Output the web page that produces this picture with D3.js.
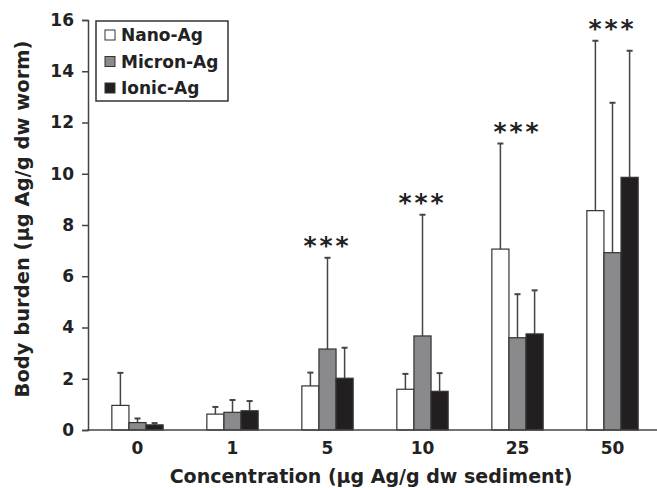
<!DOCTYPE html>
<html>
<head>
<meta charset="utf-8">
<script src="https://cdn.jsdelivr.net/npm/d3@7"></script>
<style>
  body { margin: 0; background: #fff; }
  svg { display: block; font-family: "DejaVu Sans", sans-serif; }
  .tick text { font-weight: bold; font-size: 17px; fill: #222; }
  .title { font-weight: bold; fill: #222; }
  .legend text { font-weight: bold; font-size: 17px; fill: #222; }
</style>
</head>
<body>
<div id="chart"></div>
<script>
var width = 657,
    height = 488;

// data
const categories = ['0', '1', '5', '10', '25', '50'];
const series = ['Nano-Ag', 'Micron-Ag', 'Ionic-Ag'];
const nanoMean = [0.96, 0.62, 1.72, 1.59, 7.06, 8.56];
const nanoSD = [1.27, 0.28, 0.52, 0.60, 4.12, 6.63];
const micronMean = [0.29, 0.69, 3.16, 3.67, 3.60, 6.92];
const micronSD = [0.16, 0.48, 3.56, 4.73, 1.70, 5.85];
const ionicMean = [0.20, 0.75, 2.02, 1.51, 3.75, 9.86];
const ionicSD = [0.07, 0.38, 1.19, 0.71, 1.70, 4.94];
const signif = ['', '', '***', '***', '***', '***'];
const yTicks = [0, 2, 4, 6, 8, 10, 12, 14, 16];

const fills = { 'Nano-Ag': '#ffffff', 'Micron-Ag': '#8a8a8c', 'Ionic-Ag': '#231f20' };

const means = [nanoMean, micronMean, ionicMean];
const sds = [nanoSD, micronSD, ionicSD];

const rows = categories.map((c, i) => ({
    cat: c,
    sig: signif[i],
    bars: series.map((s, j) => ({ key: s, cat: c, mean: means[j][i], sd: sds[j][i] }))
}));

const axisLeft = 88, axisRight = 657;

var svg = d3.select('#chart').append('svg')
    .attr('width', width)
    .attr('height', height);

var y = d3.scaleLinear().domain([0, 16]).range([430, 20]);

var x0 = d3.scaleBand()
    .domain(categories)
    .range([90, 660])
    .paddingInner(0.46)
    .paddingOuter(0.23);

var x1 = d3.scaleBand()
    .domain(series)
    .range([0, x0.bandwidth()]);

// y axis
var yAxis = svg.append('g')
    .attr('transform', `translate(${axisLeft},0)`)
    .call(d3.axisLeft(y).tickValues(yTicks).tickSize(6).tickPadding(8));
yAxis.select('.domain').attr('stroke', '#444').attr('stroke-width', 1.5);
yAxis.selectAll('.tick line').attr('stroke', '#444').attr('stroke-width', 1.5);
yAxis.selectAll('.tick text').attr('font-family', 'DejaVu Sans');

// groups
var groups = svg.selectAll('.group')
    .data(rows)
    .enter()
    .append('g')
    .attr('class', 'group')
    .attr('transform', d => `translate(${x0(d.cat)},0)`);

// error bars (upper only) drawn first
var err = groups.selectAll('.err')
    .data(d => d.bars)
    .enter()
    .append('g')
    .attr('class', 'err')
    .attr('stroke', '#444')
    .attr('stroke-width', 1.5);

err.append('line')
    .attr('x1', d => x1(d.key) + x1.bandwidth() / 2)
    .attr('x2', d => x1(d.key) + x1.bandwidth() / 2)
    .attr('y1', d => y(d.mean))
    .attr('y2', d => y(d.mean + d.sd));

err.append('line')
    .attr('x1', d => x1(d.key) + x1.bandwidth() / 2 - 3)
    .attr('x2', d => x1(d.key) + x1.bandwidth() / 2 + 3)
    .attr('y1', d => y(d.mean + d.sd))
    .attr('y2', d => y(d.mean + d.sd))
    .attr('stroke-width', 2);

groups.selectAll('.bar')
    .data(d => d.bars)
    .enter()
    .append('rect')
    .attr('class', 'bar')
    .attr('x', d => x1(d.key))
    .attr('width', x1.bandwidth())
    .attr('y', d => y(d.mean))
    .attr('height', d => y(0) - y(d.mean))
    .attr('fill', d => fills[d.key])
    .attr('stroke', '#333')
    .attr('stroke-width', 1.2);

// significance stars
groups.append('text')
    .attr('x', x0.bandwidth() / 2)
    .attr('y', d => y(d3.max(d.bars, b => b.mean + b.sd)) - 4)
    .attr('text-anchor', 'middle')
    .attr('font-size', 25)
    .attr('font-weight', 'bold')
    .attr('letter-spacing', 3)
    .attr('fill', '#222')
    .text(d => d.sig);

// x axis
var xAxis = svg.append('g')
    .attr('transform', `translate(0,${y(0)})`)
    .call(d3.axisBottom(x0).tickSize(0).tickPadding(12));
xAxis.select('.domain').remove();
xAxis.append('line')
    .attr('x1', axisLeft - 0.75)
    .attr('x2', axisRight)
    .attr('stroke', '#444')
    .attr('stroke-width', 1.5);
xAxis.selectAll('.tick text').attr('font-family', 'DejaVu Sans');

// axis titles
svg.append('text')
    .attr('class', 'title')
    .attr('x', 371)
    .attr('y', 483)
    .attr('text-anchor', 'middle')
    .attr('font-size', 19)
    .text('Concentration (\u00b5g Ag/g dw sediment)');

svg.append('text')
    .attr('class', 'title')
    .attr('transform', 'translate(29,219) rotate(-90)')
    .attr('text-anchor', 'middle')
    .attr('font-size', 19.5)
    .text('Body burden (\u00b5g Ag/g dw worm)');

// legend
var legend = svg.append('g').attr('class', 'legend');
legend.append('rect')
    .attr('x', 96)
    .attr('y', 21)
    .attr('width', 132)
    .attr('height', 80)
    .attr('fill', '#fff')
    .attr('stroke', '#333')
    .attr('stroke-width', 1.5);

var item = legend.selectAll('.key')
    .data(series)
    .enter()
    .append('g')
    .attr('class', 'key')
    .attr('transform', (d, i) => `translate(105,${35 + i * 26.5})`);

item.append('rect')
    .attr('x', 0)
    .attr('y', -5)
    .attr('width', 10)
    .attr('height', 10)
    .attr('fill', d => fills[d])
    .attr('stroke', '#333')
    .attr('stroke-width', 1);

item.append('text')
    .attr('x', 16)
    .attr('dy', 6)
    .text(d => d);
</script>
</body>
</html>
